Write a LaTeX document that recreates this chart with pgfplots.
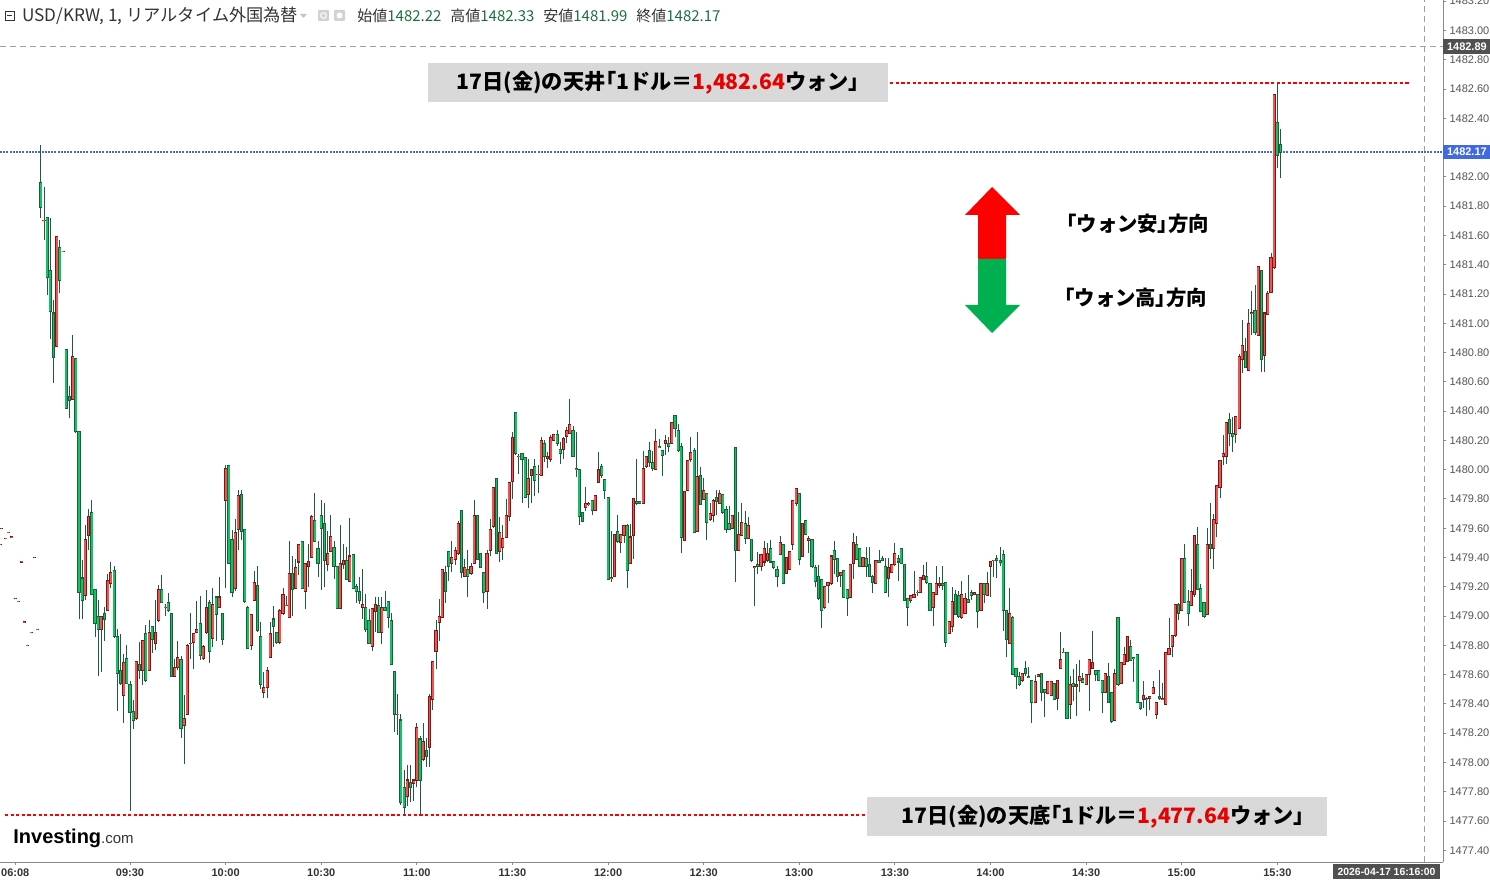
\documentclass[border=0pt]{standalone}
\usepackage{fontspec}
\setmainfont{Liberation Sans}
\newfontfamily\jp{Noto Sans CJK JP}
\newfontfamily\jpp[RawFeature=+palt]{Noto Sans CJK JP}
\usepackage{pgfplots}
\usepackage{pgfplotstable}
\pgfplotsset{compat=1.18}

\definecolor{redF}{HTML}{F0524D}
\definecolor{redE}{HTML}{7D1616}
\definecolor{grnF}{HTML}{12C264}
\definecolor{grnE}{HTML}{1C5E3A}
\definecolor{wick}{HTML}{1F5C3D}
\definecolor{axgray}{HTML}{8A8A8A}
\definecolor{lblgray}{HTML}{555555}
\definecolor{boxgray}{HTML}{D9D9D9}
\definecolor{crossgray}{HTML}{9E9E9E}
\definecolor{lastblue}{HTML}{4169E1}
\definecolor{darkbox}{HTML}{505050}
\definecolor{hdrgreen}{HTML}{1F6E3F}
\definecolor{hdrtext}{HTML}{333333}
\definecolor{arrowred}{HTML}{FF0000}
\definecolor{arrowgreen}{HTML}{00B050}
\definecolor{annred}{HTML}{E60000}

\newcommand\tl{\fontsize{5.5}{6}\selectfont}
\newcommand\LB{{\jpp 「}}
\newcommand\RB{{\jpp 」}}

% up (close >= open) candles, incl. pre-market ticks: m o h l c
\pgfplotstableread{
m o h l c
-10.8 1479.49 1479.49 1479.49 1479.49
-10.3 1479.60 1479.60 1479.60 1479.60
-9.0 1479.53 1479.53 1479.53 1479.53
-8.2 1479.57 1479.57 1479.57 1479.57
-7.1 1479.54 1479.54 1479.54 1479.54
-5.9 1479.12 1479.12 1479.12 1479.12
-5.1 1479.10 1479.10 1479.10 1479.10
-4.0 1479.37 1479.37 1479.37 1479.37
-3.2 1478.96 1478.96 1478.96 1478.96
-2.2 1478.80 1478.80 1478.80 1478.80
-1.0 1478.89 1478.89 1478.89 1478.89
0.0 1479.40 1479.40 1479.40 1479.40
0.9 1478.91 1478.91 1478.91 1478.91
3 1481.70 1481.93 1481.57 1481.70
7 1480.84 1481.59 1480.84 1481.59
9 1481.49 1481.49 1481.49 1481.49
12 1480.48 1480.92 1480.48 1480.77
16 1479.14 1479.62 1479.11 1479.52
17 1479.55 1479.73 1479.45 1479.68
21 1478.91 1479.00 1478.62 1479.00
23 1479.04 1479.29 1479.04 1479.24
24 1479.22 1479.37 1479.19 1479.30
28 1478.46 1478.74 1478.27 1478.68
32 1478.30 1478.69 1478.29 1478.69
34 1478.63 1478.84 1478.53 1478.83
36 1478.63 1478.97 1478.63 1478.89
38 1478.81 1479.11 1478.77 1478.89
39 1478.97 1479.21 1478.96 1479.18
41 1479.06 1479.08 1479.00 1479.06
44 1478.59 1478.71 1478.59 1478.65
45 1478.65 1478.83 1478.63 1478.72
47 1478.25 1478.46 1477.99 1478.30
48 1478.33 1478.81 1478.33 1478.80
49 1478.81 1479.02 1478.71 1478.81
50 1478.82 1478.88 1478.64 1478.88
51 1478.89 1479.10 1478.89 1478.91
53 1478.71 1478.80 1478.70 1478.79
54 1478.89 1479.18 1478.88 1479.06
56 1478.85 1479.19 1478.79 1479.08
58 1479.06 1479.27 1479.06 1479.13
60 1479.79 1480.03 1479.19 1480.01
63 1479.19 1479.66 1479.17 1479.57
64 1479.59 1479.86 1479.45 1479.82
68 1478.80 1479.01 1478.77 1479.01
69 1479.11 1479.31 1479.11 1479.23
72 1478.48 1478.62 1478.44 1478.51
73 1478.51 1478.65 1478.44 1478.63
74 1478.72 1478.96 1478.72 1478.88
77 1478.82 1479.05 1478.81 1479.04
78 1479.02 1479.19 1479.01 1479.15
79 1479.07 1479.14 1479.07 1479.07
80 1478.99 1479.51 1478.99 1479.29
82 1479.19 1479.39 1479.19 1479.33
83 1479.37 1479.49 1479.28 1479.49
85 1479.17 1479.36 1479.05 1479.36
86 1479.34 1479.49 1479.20 1479.37
87 1479.40 1479.69 1479.40 1479.68
92 1479.35 1479.58 1479.31 1479.43
93 1479.44 1479.69 1479.44 1479.54
96 1479.05 1479.62 1479.05 1479.36
97 1479.35 1479.49 1479.32 1479.38
99 1479.24 1479.67 1479.23 1479.41
103 1479.06 1479.32 1478.98 1479.08
106 1478.79 1479.05 1478.76 1479.05
107 1479.03 1479.13 1478.89 1479.08
109 1478.89 1479.13 1478.81 1479.06
114 1478.33 1478.47 1478.19 1478.33
117 1477.77 1477.98 1477.70 1477.88
119 1477.86 1477.88 1477.74 1477.88
120 1477.88 1478.27 1477.83 1478.24
122 1478.02 1478.27 1478.01 1478.14
124 1478.10 1478.47 1477.97 1478.45
125 1478.43 1478.69 1478.36 1478.69
126 1478.76 1478.97 1478.64 1478.90
127 1478.96 1479.12 1478.83 1479.00
128 1478.99 1479.32 1478.99 1479.32
131 1479.36 1479.51 1479.30 1479.40
132 1479.39 1479.47 1479.35 1479.45
133 1479.43 1479.65 1479.42 1479.63
135 1479.27 1479.39 1479.27 1479.33
137 1479.29 1479.36 1479.28 1479.34
138 1479.36 1479.79 1479.36 1479.69
142 1479.17 1479.45 1479.05 1479.43
143 1479.45 1479.66 1479.41 1479.59
144 1479.61 1479.88 1479.60 1479.88
146 1479.44 1479.68 1479.37 1479.57
147 1479.47 1479.62 1479.38 1479.53
148 1479.54 1479.80 1479.54 1479.69
149 1479.68 1479.91 1479.65 1479.91
150 1479.92 1480.26 1479.80 1480.22
152 1480.09 1480.11 1479.97 1480.09
155 1479.83 1480.07 1479.74 1479.94
156 1479.96 1480.00 1479.77 1480.00
158 1479.97 1480.03 1479.84 1479.97
159 1479.96 1480.22 1479.96 1480.20
161 1480.08 1480.12 1480.01 1480.09
162 1480.07 1480.24 1480.05 1480.22
163 1480.20 1480.24 1480.20 1480.24
166 1480.14 1480.22 1480.07 1480.21
167 1480.23 1480.29 1480.18 1480.27
168 1480.25 1480.48 1480.25 1480.31
173 1479.74 1479.88 1479.72 1479.77
174 1479.76 1479.78 1479.75 1479.77
176 1479.72 1479.82 1479.72 1479.82
177 1479.91 1480.12 1479.91 1480.00
181 1479.26 1479.58 1479.23 1479.26
182 1479.27 1479.56 1479.27 1479.56
184 1479.50 1479.56 1479.43 1479.56
185 1479.55 1479.62 1479.50 1479.62
187 1479.36 1479.63 1479.36 1479.54
188 1479.55 1479.80 1479.39 1479.80
191 1479.77 1480.13 1479.77 1480.01
192 1480.02 1480.09 1480.01 1480.09
195 1480.00 1480.28 1480.00 1480.19
198 1480.18 1480.24 1480.10 1480.20
200 1480.18 1480.32 1480.18 1480.32
204 1479.52 1479.85 1479.52 1479.85
205 1479.86 1480.06 1479.86 1480.06
206 1480.07 1480.22 1480.05 1480.12
208 1479.58 1480.26 1479.58 1479.95
210 1479.80 1479.94 1479.80 1479.86
212 1479.66 1479.77 1479.65 1479.70
213 1479.69 1479.80 1479.64 1479.79
215 1479.77 1479.86 1479.77 1479.84
219 1479.60 1479.69 1479.60 1479.69
221 1479.45 1479.71 1479.45 1479.56
222 1479.55 1479.77 1479.55 1479.64
224 1479.53 1479.68 1479.53 1479.62
226 1479.33 1479.34 1479.07 1479.34
228 1479.34 1479.42 1479.31 1479.42
229 1479.37 1479.51 1479.34 1479.46
230 1479.38 1479.50 1479.37 1479.43
234 1479.42 1479.55 1479.42 1479.50
236 1479.29 1479.40 1479.29 1479.40
237 1479.32 1479.44 1479.32 1479.44
238 1479.49 1479.79 1479.45 1479.79
239 1479.77 1479.87 1479.75 1479.87
241 1479.41 1479.63 1479.41 1479.63
243 1479.52 1479.55 1479.43 1479.53
248 1479.06 1479.20 1479.05 1479.20
249 1479.21 1479.23 1479.09 1479.23
250 1479.22 1479.41 1479.21 1479.41
253 1479.28 1479.30 1479.20 1479.30
256 1479.13 1479.35 1479.13 1479.35
257 1479.36 1479.57 1479.25 1479.50
260 1479.34 1479.40 1479.34 1479.40
264 1479.22 1479.38 1479.22 1479.38
268 1479.26 1479.40 1479.13 1479.33
269 1479.30 1479.35 1479.30 1479.35
270 1479.35 1479.50 1479.34 1479.43
275 1479.11 1479.14 1479.09 1479.14
276 1479.13 1479.31 1479.13 1479.15
277 1479.16 1479.18 1479.14 1479.16
278 1479.16 1479.26 1479.16 1479.26
279 1479.25 1479.35 1479.25 1479.28
282 1479.06 1479.16 1478.93 1479.16
283 1479.15 1479.34 1479.15 1479.22
284 1479.21 1479.27 1479.19 1479.22
287 1478.88 1478.96 1478.88 1478.96
288 1478.93 1479.20 1478.89 1479.10
291 1478.99 1479.24 1478.98 1479.15
292 1479.02 1479.16 1479.02 1479.12
295 1479.15 1479.16 1479.15 1479.16
297 1479.04 1479.22 1479.04 1479.22
299 1479.14 1479.30 1479.14 1479.22
300 1479.34 1479.37 1479.13 1479.37
301 1479.38 1479.38 1479.27 1479.38
306 1478.81 1479.19 1478.81 1479.02
310 1478.56 1478.61 1478.55 1478.61
314 1478.41 1478.60 1478.41 1478.55
315 1478.59 1478.60 1478.59 1478.60
318 1478.47 1478.55 1478.47 1478.55
319 1478.46 1478.55 1478.46 1478.55
321 1478.44 1478.56 1478.36 1478.56
322 1478.64 1478.89 1478.64 1478.70
323 1478.75 1478.78 1478.75 1478.75
325 1478.40 1478.59 1478.30 1478.53
327 1478.52 1478.67 1478.32 1478.53
328 1478.56 1478.70 1478.48 1478.59
330 1478.53 1478.60 1478.53 1478.60
331 1478.60 1478.70 1478.35 1478.70
332 1478.64 1478.90 1478.64 1478.68
336 1478.48 1478.61 1478.48 1478.61
339 1478.29 1478.64 1478.29 1478.61
341 1478.54 1478.68 1478.54 1478.68
342 1478.67 1478.79 1478.67 1478.74
343 1478.69 1478.86 1478.69 1478.86
348 1478.43 1478.56 1478.37 1478.46
350 1478.44 1478.45 1478.36 1478.45
351 1478.47 1478.56 1478.47 1478.51
352 1478.33 1478.41 1478.30 1478.41
354 1478.43 1478.54 1478.43 1478.44
355 1478.40 1478.75 1478.40 1478.75
356 1478.74 1478.99 1478.74 1478.78
357 1478.79 1478.87 1478.72 1478.87
358 1478.87 1479.08 1478.86 1479.08
360 1479.04 1479.39 1479.04 1479.39
363 1479.07 1479.32 1479.07 1479.17
364 1479.15 1479.55 1479.13 1479.55
368 1479.01 1479.60 1479.01 1479.49
370 1479.46 1479.70 1479.32 1479.66
371 1479.63 1479.89 1479.54 1479.89
372 1479.88 1480.06 1479.81 1480.06
373 1480.09 1480.24 1480.03 1480.11
374 1480.09 1480.32 1480.04 1480.32
377 1480.24 1480.36 1480.18 1480.36
378 1480.28 1480.79 1480.28 1480.77
379 1480.75 1481.02 1480.66 1480.85
381 1480.68 1481.10 1480.68 1481.00
382 1481.07 1481.22 1480.92 1481.07
384 1480.92 1481.39 1480.92 1481.39
386 1480.78 1481.07 1480.67 1481.07
387 1481.06 1481.22 1481.06 1481.20
388 1481.21 1481.48 1481.21 1481.45
389 1481.38 1482.56 1481.37 1482.56
}\upT

% down (close < open) candles: m o h l c
\pgfplotstableread{
m o h l c
2 1481.96 1482.22 1481.72 1481.79
4 1481.72 1481.72 1481.19 1481.31
5 1481.36 1481.72 1480.89 1481.08
6 1481.07 1481.16 1480.59 1480.77
8 1481.52 1481.57 1481.21 1481.29
10 1480.82 1480.82 1480.42 1480.42
11 1480.50 1480.57 1480.35 1480.47
13 1480.76 1480.76 1480.25 1480.26
14 1480.26 1480.26 1478.98 1479.16
15 1479.26 1479.38 1478.98 1479.11
18 1479.71 1479.79 1479.15 1479.15
19 1479.18 1479.18 1478.86 1478.95
20 1479.00 1479.11 1478.59 1478.91
22 1479.02 1479.06 1478.83 1478.98
25 1479.31 1479.34 1478.85 1478.86
26 1478.86 1478.91 1478.35 1478.61
27 1478.63 1478.88 1478.53 1478.54
29 1478.71 1478.80 1478.54 1478.54
30 1478.53 1478.56 1477.67 1478.34
31 1478.35 1478.43 1478.23 1478.29
33 1478.67 1478.82 1478.57 1478.63
35 1478.88 1478.94 1478.55 1478.56
37 1478.93 1478.93 1478.75 1478.84
40 1479.18 1479.28 1479.09 1479.09
42 1479.09 1479.16 1479.03 1479.04
43 1479.02 1479.02 1478.59 1478.59
46 1478.70 1478.73 1478.17 1478.23
52 1478.95 1479.14 1478.70 1478.73
55 1479.09 1479.11 1478.68 1478.76
57 1479.13 1479.13 1478.83 1479.01
59 1479.02 1479.02 1478.80 1478.84
61 1480.03 1480.03 1479.36 1479.36
62 1479.52 1479.59 1479.13 1479.16
65 1479.83 1479.86 1479.52 1479.58
66 1479.59 1479.59 1479.09 1479.10
67 1479.06 1479.07 1478.78 1478.78
70 1479.21 1479.34 1478.89 1478.90
71 1478.86 1478.96 1478.50 1478.53
75 1478.98 1479.07 1478.79 1478.93
76 1478.89 1478.89 1478.81 1478.82
81 1479.29 1479.41 1479.00 1479.18
84 1479.51 1479.51 1479.19 1479.19
88 1479.65 1479.84 1479.51 1479.51
89 1479.46 1479.51 1479.27 1479.36
90 1479.69 1479.79 1479.18 1479.60
91 1479.63 1479.77 1479.20 1479.38
94 1479.47 1479.51 1479.25 1479.34
95 1479.34 1479.34 1479.05 1479.05
98 1479.38 1479.47 1479.25 1479.25
100 1479.42 1479.42 1479.19 1479.19
101 1479.20 1479.22 1479.09 1479.17
102 1479.17 1479.27 1479.08 1479.11
104 1479.06 1479.15 1478.89 1478.91
105 1478.97 1479.05 1478.81 1478.81
108 1479.07 1479.13 1478.89 1478.89
110 1479.06 1479.17 1479.04 1479.04
111 1479.10 1479.10 1478.92 1478.99
112 1478.97 1479.02 1478.67 1478.67
113 1478.62 1478.62 1478.21 1478.33
115 1478.29 1478.33 1477.71 1477.73
116 1477.83 1477.95 1477.64 1477.69
118 1477.86 1477.98 1477.73 1477.83
121 1478.16 1478.18 1477.65 1477.88
123 1478.08 1478.17 1477.97 1478.04
129 1479.30 1479.34 1479.09 1479.17
130 1479.44 1479.44 1479.24 1479.34
134 1479.72 1479.72 1479.26 1479.30
136 1479.32 1479.45 1479.13 1479.27
139 1479.69 1479.69 1479.39 1479.39
140 1479.43 1479.43 1479.33 1479.33
141 1479.30 1479.30 1479.09 1479.16
145 1479.94 1479.94 1479.43 1479.43
151 1480.39 1480.39 1480.10 1480.11
153 1480.11 1480.11 1479.77 1480.07
154 1480.08 1480.08 1479.81 1479.81
157 1480.02 1480.07 1479.82 1479.93
160 1480.18 1480.20 1480.05 1480.09
164 1480.24 1480.27 1480.16 1480.18
165 1480.14 1480.19 1480.04 1480.11
169 1480.27 1480.30 1480.09 1480.09
170 1480.01 1480.26 1479.95 1480.00
171 1480.00 1480.00 1479.62 1479.68
172 1479.71 1479.71 1479.64 1479.65
175 1479.79 1479.79 1479.69 1479.72
178 1480.02 1480.04 1479.94 1479.96
179 1479.93 1479.93 1479.80 1479.86
180 1479.81 1479.81 1479.25 1479.25
183 1479.58 1479.69 1479.50 1479.51
186 1479.62 1479.63 1479.19 1479.31
189 1479.78 1480.07 1479.76 1479.77
190 1479.78 1479.78 1479.77 1479.77
193 1480.13 1480.19 1480.02 1480.05
194 1480.05 1480.13 1479.99 1480.01
196 1480.16 1480.21 1480.15 1480.15
197 1480.13 1480.13 1479.96 1480.10
199 1480.18 1480.22 1480.12 1480.16
201 1480.37 1480.37 1480.22 1480.28
202 1480.27 1480.31 1480.12 1480.13
203 1480.16 1480.18 1479.43 1479.54
207 1480.13 1480.15 1479.57 1479.57
209 1479.96 1480.02 1479.76 1479.76
211 1479.84 1479.84 1479.52 1479.64
214 1479.81 1479.86 1479.69 1479.78
216 1479.83 1479.83 1479.70 1479.71
217 1479.73 1479.75 1479.57 1479.59
218 1479.63 1479.75 1479.59 1479.59
220 1480.15 1480.15 1479.23 1479.45
223 1479.63 1479.72 1479.49 1479.53
225 1479.52 1479.52 1479.37 1479.38
227 1479.35 1479.44 1479.29 1479.34
231 1479.46 1479.52 1479.36 1479.37
232 1479.37 1479.37 1479.32 1479.33
233 1479.32 1479.34 1479.20 1479.27
235 1479.49 1479.49 1479.22 1479.22
240 1479.84 1479.84 1479.35 1479.39
242 1479.65 1479.65 1479.56 1479.56
244 1479.52 1479.52 1479.33 1479.34
245 1479.33 1479.35 1479.20 1479.24
246 1479.27 1479.35 1479.11 1479.12
247 1479.25 1479.25 1478.92 1479.04
251 1479.45 1479.51 1479.29 1479.39
252 1479.39 1479.39 1479.23 1479.27
254 1479.31 1479.31 1479.13 1479.13
255 1479.18 1479.18 1479.00 1479.12
258 1479.49 1479.55 1479.38 1479.39
259 1479.46 1479.46 1479.34 1479.34
261 1479.39 1479.47 1479.27 1479.34
262 1479.35 1479.47 1479.27 1479.27
263 1479.27 1479.28 1479.16 1479.23
265 1479.38 1479.45 1479.37 1479.37
266 1479.39 1479.41 1479.38 1479.38
267 1479.34 1479.40 1479.16 1479.16
271 1479.39 1479.42 1479.24 1479.37
272 1479.46 1479.46 1479.36 1479.36
273 1479.35 1479.35 1479.11 1479.11
274 1479.12 1479.12 1478.93 1479.06
280 1479.27 1479.37 1479.22 1479.23
281 1479.22 1479.22 1479.04 1479.04
285 1479.22 1479.34 1479.18 1479.21
286 1479.23 1479.23 1478.79 1478.82
289 1479.15 1479.18 1479.01 1479.01
290 1479.14 1479.17 1478.99 1479.00
293 1479.11 1479.28 1479.09 1479.09
294 1479.16 1479.18 1479.11 1479.14
296 1479.15 1479.15 1478.92 1479.03
298 1479.22 1479.22 1479.09 1479.15
302 1479.39 1479.42 1479.26 1479.38
303 1479.38 1479.47 1479.34 1479.37
304 1479.42 1479.45 1478.90 1479.04
305 1479.04 1479.04 1478.72 1478.84
307 1478.99 1479.00 1478.60 1478.60
308 1478.64 1478.64 1478.50 1478.59
309 1478.59 1478.62 1478.52 1478.53
311 1478.64 1478.69 1478.59 1478.61
312 1478.59 1478.65 1478.58 1478.58
313 1478.56 1478.56 1478.27 1478.41
316 1478.61 1478.61 1478.42 1478.48
317 1478.50 1478.50 1478.31 1478.48
320 1478.54 1478.54 1478.43 1478.43
324 1478.75 1478.75 1478.30 1478.30
326 1478.54 1478.64 1478.42 1478.52
329 1478.57 1478.61 1478.54 1478.55
333 1478.63 1478.63 1478.56 1478.60
334 1478.63 1478.63 1478.56 1478.56
335 1478.56 1478.56 1478.34 1478.48
337 1478.59 1478.68 1478.41 1478.41
338 1478.48 1478.48 1478.27 1478.28
340 1478.99 1478.99 1478.52 1478.53
344 1478.79 1478.84 1478.70 1478.70
345 1478.72 1478.72 1478.55 1478.71
346 1478.74 1478.74 1478.41 1478.41
347 1478.41 1478.41 1478.36 1478.37
349 1478.44 1478.45 1478.32 1478.43
353 1478.45 1478.63 1478.43 1478.44
359 1479.08 1479.09 1478.97 1479.02
361 1479.39 1479.49 1479.09 1479.09
362 1479.10 1479.18 1478.93 1479.02
365 1479.49 1479.61 1479.18 1479.18
366 1479.19 1479.22 1479.03 1479.03
367 1479.09 1479.09 1478.99 1479.00
369 1479.49 1479.77 1479.39 1479.46
375 1480.34 1480.39 1480.16 1480.25
376 1480.25 1480.36 1480.12 1480.23
380 1480.81 1480.90 1480.70 1480.70
383 1481.09 1481.26 1480.92 1480.94
385 1481.36 1481.36 1480.67 1480.75
390 1482.37 1482.64 1482.06 1482.15
391 1482.22 1482.33 1481.99 1482.17
}\dnT

\pgfplotsset{
  candlebar/.style 2 args={draw=none, mark=none, forget plot,
    error bars/.cd, y dir=plus, y explicit, error mark=none,
    error bar style={draw=#1, line width=#2, solid, line cap=butt}},
}

\begin{document}
\begin{tikzpicture}
\begin{axis}[
  scale only axis, width=721.5pt, height=431pt,
  xmin=-10.794, xmax=441.98, ymin=1477.3203, ymax=1483.2083,
  axis x line*=bottom, axis y line*=right,
  axis line style={draw=axgray, line width=0.5pt},
  tick style={draw=axgray, line width=0.5pt},
  tick align=outside, major tick length=1.5pt,
  /pgf/number format/assume math mode=true,
  scaled y ticks=false,
  ytick={1477.4,1477.6,1477.8,1478,1478.2,1478.4,1478.6,1478.8,1479,1479.2,1479.4,1479.6,1479.8,1480,1480.2,1480.4,1480.6,1480.8,1481,1481.2,1481.4,1481.6,1481.8,1482,1482.2,1482.4,1482.6,1482.8,1483,1483.2},
  yticklabels={1477.40,1477.60,1477.80,1478.00,1478.20,1478.40,1478.60,1478.80,1479.00,1479.20,1479.40,1479.60,1479.80,1480.00,1480.20,1480.40,1480.60,1480.80,1481.00,1481.20,1481.40,1481.60,1481.80,1482.00,{},1482.40,1482.60,1482.80,1483.00,1483.20},
  yticklabel style={font=\tl, text=lblgray, anchor=west, inner sep=0pt, xshift=1.6pt},
  xtick={-6,30,60,90,120,150,180,210,240,270,300,330,360,390},
  xticklabels={06:08,09:30,10:00,10:30,11:00,11:30,12:00,12:30,13:00,13:30,14:00,14:30,15:00,15:30},
  xticklabel style={font=\tl\bfseries, text=hdrtext, anchor=north, inner sep=0pt, yshift=-1.5pt},
]
% crosshair and price lines
\draw[crossgray, line width=0.5pt, dash pattern=on 3pt off 2pt] (axis cs:-10.794,1482.89) -- (axis cs:441.98,1482.89);
\draw[crossgray, line width=0.5pt, dash pattern=on 3pt off 2pt] (axis cs:436.3,1477.3203) -- (axis cs:436.3,1483.2083);
\draw[lastblue, line width=0.55pt, dash pattern=on 1pt off 0.6pt] (axis cs:-10.794,1482.17) -- (axis cs:441.98,1482.17);
\draw[red, line width=1pt, dash pattern=on 1.6pt off 1.2pt] (axis cs:268.5,1482.64) -- (axis cs:431.6,1482.64);
\draw[red, line width=1pt, dash pattern=on 1.6pt off 1.2pt] (axis cs:-9.2,1477.64) -- (axis cs:260.6,1477.64);

% wicks
\addplot[candlebar={wick}{0.45pt}]
  table[x=m, y=l, y error plus expr={\thisrow{h}-\thisrow{l}}] {\upT};
\addplot[candlebar={wick}{0.45pt}]
  table[x=m, y=l, y error plus expr={\thisrow{h}-\thisrow{l}}] {\dnT};
% bodies: up (red)
\addplot[candlebar={redE}{1.55pt}]
  table[x=m, y expr={\thisrow{o}-0.004}, y error plus expr={\thisrow{c}-\thisrow{o}+0.008}] {\upT};
\addplot[candlebar={redF}{0.9pt}]
  table[x=m, y expr={\thisrow{o}+0.003}, y error plus expr={\thisrow{c}-\thisrow{o}-0.006}] {\upT};
% bodies: down (green)
\addplot[candlebar={grnE}{1.55pt}]
  table[x=m, y expr={\thisrow{c}-0.004}, y error plus expr={\thisrow{o}-\thisrow{c}+0.008}] {\dnT};
\addplot[candlebar={grnF}{0.9pt}]
  table[x=m, y expr={\thisrow{c}+0.003}, y error plus expr={\thisrow{o}-\thisrow{c}-0.006}] {\dnT};

\coordinate (b89) at (axis cs:441.98,1482.89);
\coordinate (b17) at (axis cs:441.98,1482.17);
\end{axis}

% right-hand price boxes
\node[fill=darkbox, text=white, font=\tl\bfseries, anchor=west, minimum width=23.5pt, minimum height=7.5pt, inner sep=0pt] at (b89) {1482.89};
\node[fill=lastblue, text=white, font=\tl\bfseries, anchor=west, minimum width=23.5pt, minimum height=7.2pt, inner sep=0pt] at (b17) {1482.17};
% time box
\node[fill=darkbox, text=white, font=\fontsize{5.2}{6}\selectfont\bfseries, minimum width=53.5pt, minimum height=7.5pt, inner sep=0pt] at (693.25pt,-4.75pt) {2026-04-17 16:16:00};

% header
\draw[hdrtext, line width=0.4pt] (2.6pt,421pt) rectangle (7pt,425.4pt);
\draw[hdrtext, line width=0.4pt] (3.6pt,423.2pt) -- (6pt,423.2pt);
\node[anchor=west, inner sep=0pt, text=hdrtext, font=\jp\fontsize{8.6}{9}\selectfont] at (11pt,423pt) {USD/KRW, 1, リアルタイム外国為替};
\fill[gray!45] (150pt,424pt) -- (153.5pt,424pt) -- (151.75pt,422pt) -- cycle;
\fill[gray!35, rounded corners=0.5pt] (159pt,420.5pt) rectangle (164.5pt,426pt);
\draw[white, line width=0.5pt] (161.75pt,423.25pt) circle (1.4pt);
\fill[gray!35, rounded corners=0.5pt] (167pt,420.5pt) rectangle (172.5pt,426pt);
\fill[white] (169.75pt,423.25pt) circle (1.5pt);
\node[anchor=west, inner sep=0pt, font=\jp\fontsize{7.5}{9}\selectfont] at (178.5pt,423pt) {\textcolor{hdrtext}{始値}\textcolor{hdrgreen}{1482.22}};
\node[anchor=west, inner sep=0pt, font=\jp\fontsize{7.5}{9}\selectfont] at (225pt,423pt) {\textcolor{hdrtext}{高値}\textcolor{hdrgreen}{1482.33}};
\node[anchor=west, inner sep=0pt, font=\jp\fontsize{7.5}{9}\selectfont] at (271.5pt,423pt) {\textcolor{hdrtext}{安値}\textcolor{hdrgreen}{1481.99}};
\node[anchor=west, inner sep=0pt, font=\jp\fontsize{7.5}{9}\selectfont] at (318pt,423pt) {\textcolor{hdrtext}{終値}\textcolor{hdrgreen}{1482.17}};

% annotation boxes
\node[fill=boxgray, minimum width=230pt, minimum height=19.5pt, inner sep=0pt, font=\jp\bfseries\fontsize{10.6}{12}\selectfont] at (329pt,389.75pt) {17日(金)の天井\LB 1ドル＝\textcolor{annred}{1,482.64}ウォン\RB};
\node[fill=boxgray, minimum width=230pt, minimum height=19.5pt, inner sep=0pt, font=\jp\bfseries\fontsize{10.6}{12}\selectfont] at (548.5pt,22.75pt) {\hspace*{6pt}17日(金)の天底\LB 1ドル＝\textcolor{annred}{1,477.64}ウォン\RB};

% direction arrows
\fill[arrowred] (496pt,337.5pt) -- (510pt,323.5pt) -- (503pt,323.5pt) -- (503pt,301.5pt) -- (489pt,301.5pt) -- (489pt,323.5pt) -- (482.5pt,323.5pt) -- cycle;
\fill[arrowgreen] (489pt,301.5pt) -- (503pt,301.5pt) -- (503pt,278.5pt) -- (510pt,278.5pt) -- (496pt,264.5pt) -- (482.5pt,278.5pt) -- (489pt,278.5pt) -- cycle;
\node[anchor=west, inner sep=0pt, font=\jp\bfseries\fontsize{10.2}{11}\selectfont] at (533pt,319pt) {\LB ウォン安\RB 方向};
\node[anchor=west, inner sep=0pt, font=\jp\bfseries\fontsize{10.2}{11}\selectfont] at (532pt,282pt) {\LB ウォン高\RB 方向};

% logo
\node[anchor=west, inner sep=0pt, text=black] at (6.5pt,12pt) {\fontsize{10}{12}\selectfont\bfseries Investing\textcolor{hdrtext}{\fontsize{7.5}{9}\selectfont\mdseries .com}};

\pgfresetboundingbox
\path[use as bounding box] (0pt,-8.5pt) rectangle (745pt,431pt);
\end{tikzpicture}
\end{document}
